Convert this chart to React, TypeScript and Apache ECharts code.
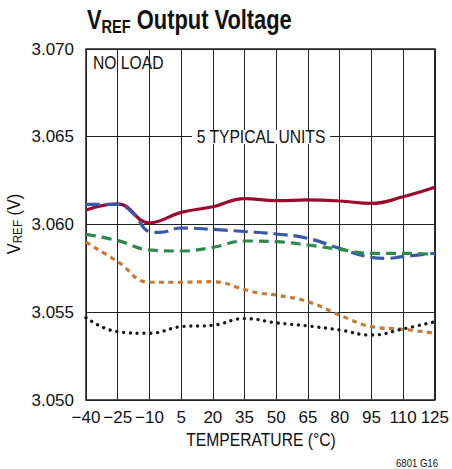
import React, { useEffect, useRef } from "react";
import * as echarts from "echarts";

const temps = [-40, -25, -10, 5, 20, 35, 50, 65, 80, 95, 110, 125];
const yTicks = [3.05, 3.055, 3.06, 3.065, 3.07];

const unit1T = [-40, -25, -10, 5, 20, 35, 50, 65, 80, 95, 110, 125];
const unit1V = [3.06083, 3.06117, 3.0601, 3.06069, 3.06101, 3.06148, 3.06136, 3.0614, 3.06134, 3.0612, 3.06158, 3.06212];

const unit2T = [-40, -25, -17.5, -10, -5, 5, 20, 35, 50, 65, 80, 95, 102, 110, 125];
const unit2V = [3.06115, 3.06115, 3.0606, 3.0596, 3.05955, 3.0598, 3.05972, 3.0596, 3.05946, 3.05921, 3.05864, 3.05813, 3.05807, 3.05817, 3.05836];

const unit3T = [-40, -25, -10, 5, 20, 35, 50, 65, 80, 95, 110, 125];
const unit3V = [3.05944, 3.05908, 3.05855, 3.05849, 3.0587, 3.05906, 3.05902, 3.05883, 3.05858, 3.05836, 3.05836, 3.0583];

const unit4T = [-40, -25, -10, 5, 20, 35, 41, 50, 65, 80, 95, 110, 125];
const unit4V = [3.05899, 3.05788, 3.05671, 3.05671, 3.05674, 3.0563, 3.05611, 3.05598, 3.0556, 3.05484, 3.05418, 3.05403, 3.0538];

const unit5T = [-40, -25, -10, 5, 20, 35, 50, 65, 80, 95, 110, 125];
const unit5V = [3.05469, 3.05389, 3.0538, 3.05418, 3.05426, 3.05464, 3.0544, 3.05422, 3.05399, 3.0537, 3.05405, 3.05446];

const FONT = "'Liberation Sans', Arial, sans-serif";

const zip = (t: number[], v: number[]) => t.map((x, i) => [x, v[i]]);

export default function App() {
  const ref = useRef<HTMLDivElement>(null);
  useEffect(() => {
    if (!ref.current) return;
    const chart = echarts.init(ref.current, undefined, { renderer: "svg" });
    const mk = (t: number[], v: number[], color: string, width: number, type: any, cap: any = "butt") => ({
      type: "line",
      data: zip(t, v),
      smooth: 0.45,
      showSymbol: false,
      symbol: "none",
      lineStyle: { color, width, type, cap },
    });
    chart.setOption({
      animation: false,
      textStyle: { fontFamily: FONT },
      grid: { left: 86, right: 15, top: 49, bottom: 69, show: true, borderColor: "#222", borderWidth: 1.5 },
      xAxis: {
        type: "value",
        min: temps[0],
        max: temps[temps.length - 1],
        interval: 15,
        axisLine: { show: false },
        axisTick: { show: false },
        splitLine: { show: true, lineStyle: { color: "#222", width: 1 } },
        axisLabel: {
          color: "#111",
          fontSize: 17,
          fontFamily: FONT,
          margin: 9,
          formatter: (v: number) => (v < 0 ? "\u2212" + Math.abs(v) : String(v)),
        },
      },
      yAxis: {
        type: "value",
        min: yTicks[0],
        max: yTicks[yTicks.length - 1],
        interval: 0.005,
        axisLine: { show: false },
        axisTick: { show: false },
        splitLine: { show: true, lineStyle: { color: "#222", width: 1 } },
        axisLabel: {
          color: "#111",
          fontSize: 17,
          fontFamily: FONT,
          margin: 12,
          formatter: (v: number) => v.toFixed(3),
        },
      },
      graphic: [
        {
          type: "text",
          x: 87,
          y: 5,
          scaleX: 0.81,
          z: 100,
          style: {
            text: "{a|V}{b|REF}{a| Output Voltage}",
            verticalAlign: "top",
            rich: {
              a: { fontSize: 27, fontWeight: "bold", fontFamily: FONT, fill: "#111", lineHeight: 30 },
              b: { fontSize: 18, fontWeight: "bold", fontFamily: FONT, fill: "#111", lineHeight: 16, verticalAlign: "bottom" },
            },
          },
        },
        {
          type: "text",
          x: 14,
          y: 224,
          rotation: Math.PI / 2,
          scaleX: 0.9,
          z: 100,
          style: {
            text: "{a|V}{b|REF}{a| (V)}",
            align: "center",
            verticalAlign: "middle",
            rich: {
              a: { fontSize: 18, fontFamily: FONT, fill: "#111", lineHeight: 20 },
              b: { fontSize: 13, fontFamily: FONT, fill: "#111", lineHeight: 13, verticalAlign: "bottom" },
            },
          },
        },
        {
          type: "text",
          x: 93,
          y: 54,
          scaleX: 0.87,
          z: 100,
          style: { text: "NO LOAD", fontSize: 18, fontFamily: FONT, fill: "#111", verticalAlign: "top" },
        },
        {
          type: "rect",
          z: 99,
          shape: { x: 192, y: 130, width: 138, height: 14 },
          style: { fill: "#fff" },
        },
        {
          type: "text",
          x: 261,
          y: 137,
          scaleX: 0.87,
          z: 100,
          style: {
            text: "5 TYPICAL UNITS",
            fontSize: 18,
            fontFamily: FONT,
            fill: "#111",
            align: "center",
            verticalAlign: "middle",
          },
        },
        {
          type: "text",
          x: 261,
          y: 440,
          scaleX: 0.87,
          z: 100,
          style: {
            text: "TEMPERATURE (°C)",
            fontSize: 18,
            fontFamily: FONT,
            fill: "#111",
            align: "center",
            verticalAlign: "middle",
          },
        },
        {
          type: "text",
          x: 438,
          y: 463,
          scaleX: 0.87,
          z: 100,
          style: { text: "6801 G16", fontSize: 11, fontFamily: FONT, fill: "#111", align: "right", verticalAlign: "middle" },
        },
      ],
      series: [
        mk(unit1T, unit1V, "#9B0A2E", 3.2, "solid"),
        mk(unit2T, unit2V, "#3A57A8", 3.2, [14, 6]),
        mk(unit3T, unit3V, "#2E8A4C", 3.2, [10, 6]),
        mk(unit4T, unit4V, "#C57A36", 3.2, [5, 4.5]),
        mk(unit5T, unit5V, "#1a1a1a", 3.4, [0.01, 6.8], "round"),
      ],
    });
    return () => chart.dispose();
  }, []);
  return <div ref={ref} style={{ width: 452, height: 469, position: "absolute", left: 0, top: 0 }} />;
}
